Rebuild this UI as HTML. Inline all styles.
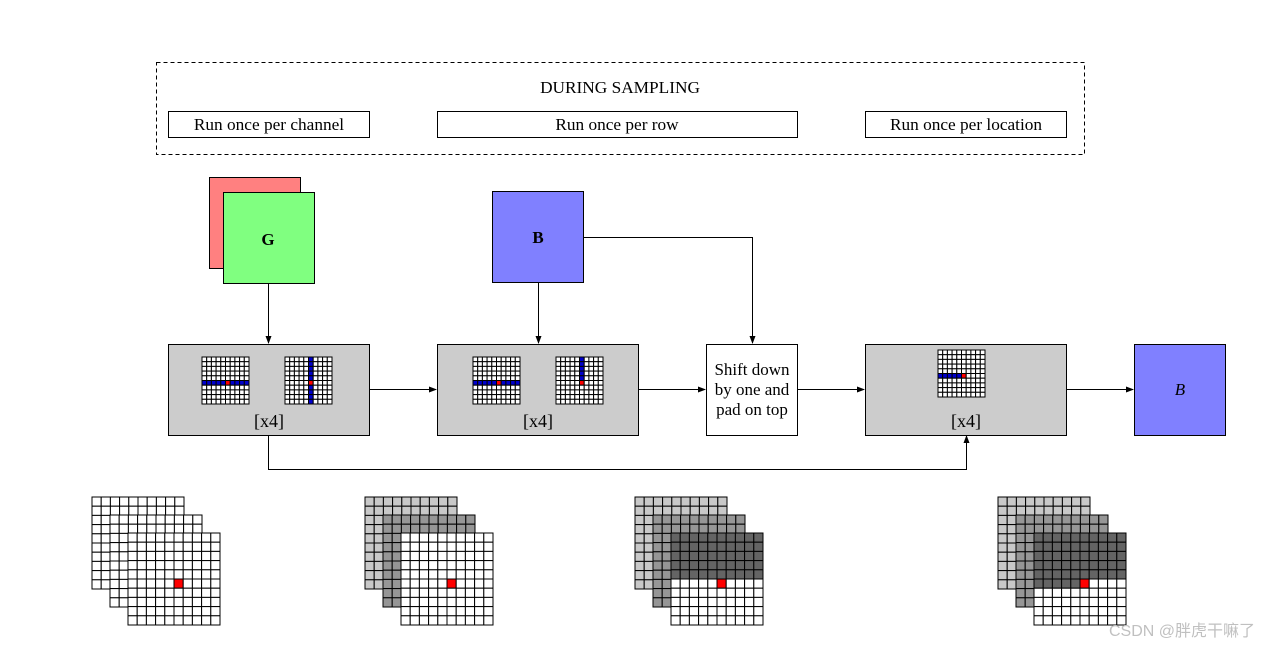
<!DOCTYPE html>
<html><head><meta charset="utf-8"><style>
body{margin:0;background:#fff;width:1268px;height:648px;overflow:hidden}
svg{display:block;font-family:"Liberation Serif",serif}
</style></head><body>
<svg id="s" width="1268" height="648" xmlns="http://www.w3.org/2000/svg">
<defs><marker id="a" markerWidth="8" markerHeight="8" refX="7" refY="4" orient="auto" markerUnits="userSpaceOnUse"><path d="M0,1 L8,4 L0,7 z" fill="#000"/></marker></defs>
<rect x="156.5" y="62.5" width="928" height="92" fill="none" stroke="#000" stroke-dasharray="4,3"/>
<text x="620" y="93" font-size="17.3" text-anchor="middle">DURING SAMPLING</text>
<rect x="168.5" y="111.5" width="201" height="26" fill="#fff" stroke="#000"/>
<text x="269" y="130" font-size="17.3" text-anchor="middle">Run once per channel</text>
<rect x="437.5" y="111.5" width="360" height="26" fill="#fff" stroke="#000"/>
<text x="617" y="130" font-size="17.3" text-anchor="middle">Run once per row</text>
<rect x="865.5" y="111.5" width="201" height="26" fill="#fff" stroke="#000"/>
<text x="966" y="130" font-size="17.3" text-anchor="middle">Run once per location</text>
<rect x="209.5" y="177.5" width="91" height="91" fill="#ff8080" stroke="#000"/>
<rect x="223.5" y="192.5" width="91" height="91" fill="#80ff80" stroke="#000"/>
<text x="268" y="245" font-size="17" font-weight="bold" text-anchor="middle">G</text>
<rect x="492.5" y="191.5" width="91" height="91" fill="#8080ff" stroke="#000"/>
<text x="538" y="243" font-size="17" font-weight="bold" text-anchor="middle">B</text>
<g stroke="#000" fill="none">
<line x1="268.5" y1="283" x2="268.5" y2="343" marker-end="url(#a)"/>
<line x1="538.5" y1="282" x2="538.5" y2="343" marker-end="url(#a)"/>
<polyline points="583,237.5 752.5,237.5 752.5,343" marker-end="url(#a)"/>
<line x1="369" y1="389.5" x2="436" y2="389.5" marker-end="url(#a)"/>
<line x1="638" y1="389.5" x2="705" y2="389.5" marker-end="url(#a)"/>
<line x1="797" y1="389.5" x2="864" y2="389.5" marker-end="url(#a)"/>
<line x1="1066" y1="389.5" x2="1133" y2="389.5" marker-end="url(#a)"/>
<polyline points="268.5,435 268.5,469.5 966.5,469.5 966.5,436" marker-end="url(#a)"/>
</g>
<rect x="168.5" y="344.5" width="201" height="91" fill="#cccccc" stroke="#000"/>
<rect x="437.5" y="344.5" width="201" height="91" fill="#cccccc" stroke="#000"/>
<rect x="706.5" y="344.5" width="91" height="91" fill="#fff" stroke="#000"/>
<rect x="865.5" y="344.5" width="201" height="91" fill="#cccccc" stroke="#000"/>
<rect x="1134.5" y="344.5" width="91" height="91" fill="#8080ff" stroke="#000"/>
<text x="1180" y="395" font-size="17" font-style="italic" text-anchor="middle">B</text>
<text x="269" y="427" font-size="18" text-anchor="middle">[x4]</text>
<text x="538" y="427" font-size="18" text-anchor="middle">[x4]</text>
<text x="966" y="427" font-size="18" text-anchor="middle">[x4]</text>
<text x="752" y="375" font-size="17" text-anchor="middle">Shift down</text>
<text x="752" y="395" font-size="17" text-anchor="middle">by one and</text>
<text x="752" y="415" font-size="17" text-anchor="middle">pad on top</text>
<g id="g"></g>
<text x="1255" y="636" font-size="16" fill="#c0c0c0" text-anchor="end" font-family="Liberation Sans, Noto Sans CJK SC, sans-serif">CSDN @胖虎干嘛了</text>
</svg>
<script>
var g=document.getElementById('g'),h='';
function grid(x,y,cs,fill){var n=10;for(var r=0;r<n;r++)for(var c=0;c<n;c++){h+='<rect x="'+(x+c*cs)+'" y="'+(y+r*cs)+'" width="'+cs+'" height="'+cs+'" fill="'+fill(r,c)+'" stroke="#000" stroke-width="1"/>';}}
var W=function(){return'#fff'};
var cs=4.7;
grid(202,357,cs,function(r,c){return r==5?(c==5?'#f00':'#00c'):'#fff'});
grid(285,357,cs,function(r,c){return c==5?(r==5?'#f00':'#00c'):'#fff'});
grid(473,357,cs,function(r,c){return r==5?(c==5?'#f00':'#00c'):'#fff'});
grid(556,357,cs,function(r,c){return c==5&&r<=5?(r==5?'#f00':'#00c'):'#fff'});
grid(938,350,cs,function(r,c){return r==5&&c<=5?(c==5?'#f00':'#00c'):'#fff'});
var b=9.2;
function stack(x0,f1,f2,f3){grid(x0,497,b,f1);grid(x0+18,515,b,f2);grid(x0+36,533,b,f3);}
var red=function(f){return function(r,c){return(r==5&&c==5)?'#f00':f(r,c)}};
stack(92,W,W,red(W));
var L=function(){return'#c8c8c8'},M=function(){return'#969696'};
stack(365,L,M,red(W));
stack(635,L,M,red(function(r,c){return r<5?'#646464':'#fff'}));
stack(998,L,M,red(function(r,c){return(r<5||(r==5&&c<5))?'#646464':'#fff'}));
g.innerHTML=h;
</script>
</body></html>
